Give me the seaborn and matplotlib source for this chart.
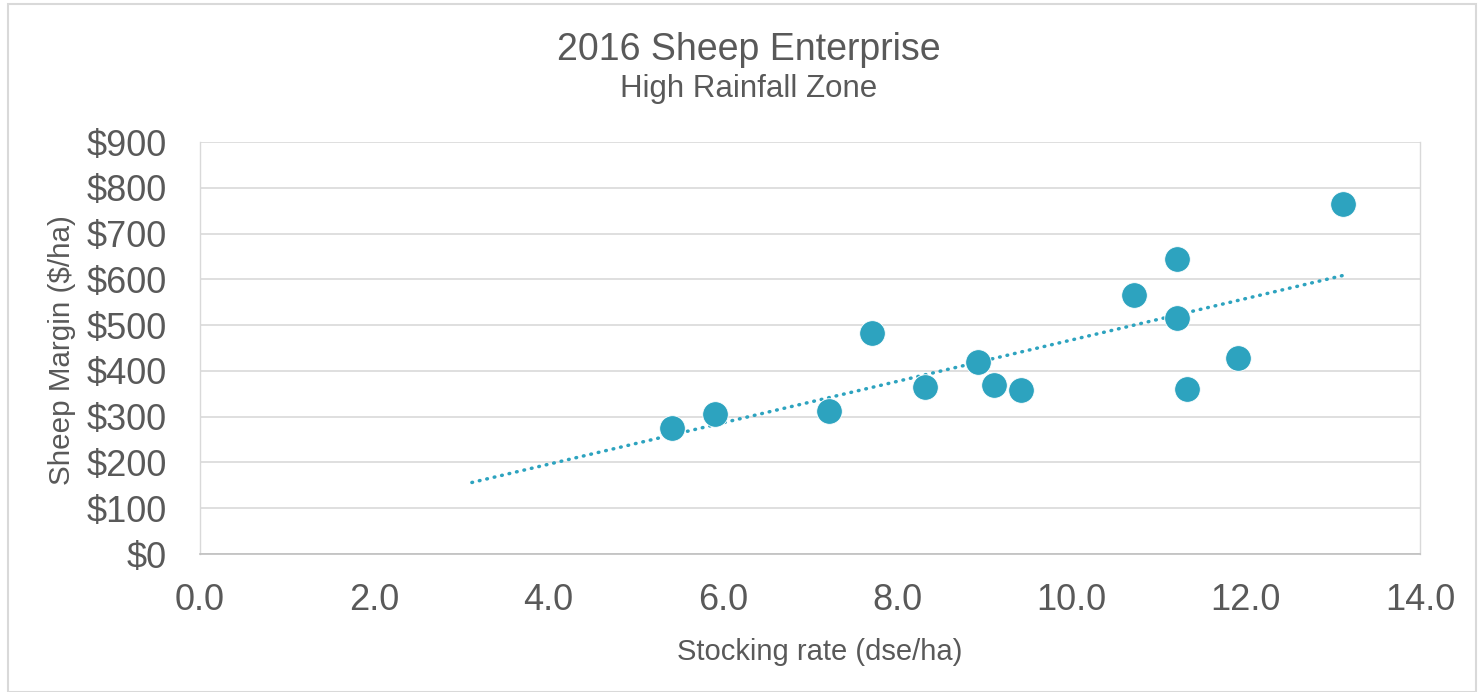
import numpy as np
import pandas as pd
import matplotlib
matplotlib.use("Agg")
import matplotlib.pyplot as plt
import seaborn as sns
from matplotlib.patches import Rectangle
from matplotlib.ticker import FuncFormatter

# ---- data ----
stocking_rate = [5.42, 5.91, 7.22, 7.71, 8.32, 8.93, 9.11, 9.42, 10.72, 11.21, 11.21, 11.33, 11.91, 13.12]
sheep_margin = [275, 306, 312, 482, 365, 419, 369, 358, 565, 644, 515, 360, 428, 764]
trend_backward = 2.3  # trendline backward forecast (dse/ha)
x_ticks = [0, 2, 4, 6, 8, 10, 12, 14]
y_ticks = [0, 100, 200, 300, 400, 500, 600, 700, 800, 900]

title = "2016 Sheep Enterprise"
subtitle = "High Rainfall Zone"
x_label = "Stocking rate (dse/ha)"
y_label = "Sheep Margin ($/ha)"

df = pd.DataFrame({"x": stocking_rate, "y": sheep_margin})

sns.set_theme(style="white")
plt.rcParams["font.family"] = ["Liberation Sans", "DejaVu Sans"]

TEXT = "#595959"
POINT = "#2DA3BF"
GRID = "#d9d9d9"

fig = plt.figure(figsize=(14.8, 6.92), dpi=100)
ax = fig.add_axes([200 / 1480, 1 - 554 / 692, 1220 / 1480, 412 / 692])

# trendline (least squares, as Excel computes it)
slope, intercept = np.polyfit(df["x"], df["y"], 1)
tx = np.array([df["x"].min() - trend_backward, df["x"].max()])
ax.plot(tx, slope * tx + intercept, color=POINT, lw=2.5,
        linestyle=(0, (0.2, 2.0)), dash_capstyle="round", zorder=2)

sns.scatterplot(data=df, x="x", y="y", ax=ax, color=POINT, s=340,
                edgecolor="white", linewidth=0.6, zorder=3)

ax.set_xlim(0, 14)
ax.set_ylim(0, 900)
ax.set_xticks(x_ticks)
ax.set_yticks(y_ticks)
ax.xaxis.set_major_formatter(FuncFormatter(lambda v, p: f"{v:.1f}"))
ax.yaxis.set_major_formatter(FuncFormatter(lambda v, p: f"${v:,.0f}"))
ax.tick_params(axis="both", labelsize=26, colors=TEXT, length=0)
ax.tick_params(axis="y", pad=24)
ax.tick_params(axis="x", pad=21)
ax.grid(axis="y", color=GRID, lw=1.2)
ax.set_axisbelow(True)
for side in ["left", "right", "top"]:
    ax.spines[side].set_color(GRID)
    ax.spines[side].set_linewidth(1.0)
ax.spines["top"].set_visible(False)
ax.spines["bottom"].set_color("#bfbfbf")
ax.spines["bottom"].set_linewidth(1.2)

ax.set_xlabel("")
ax.set_ylabel("")
fig.text(820 / 1480, 1 - 652 / 692, x_label, ha="center", va="center", fontsize=21, color=TEXT)
fig.text(62 / 1480, 1 - 350 / 692, y_label, ha="center", va="center", rotation=90, fontsize=21.3, color=TEXT)

fig.text(749 / 1480, 1 - 50 / 692, title, ha="center", va="center", fontsize=27, color=TEXT)
fig.text(749 / 1480, 1 - 89 / 692, subtitle, ha="center", va="center", fontsize=22.5, color=TEXT)

fig.patches.append(Rectangle((8 / 1480, 0), 1468 / 1480, 1 - 4 / 692, transform=fig.transFigure,
                             fill=False, edgecolor=GRID, lw=1.5))

fig.savefig("out.png", dpi=100, facecolor="white")
